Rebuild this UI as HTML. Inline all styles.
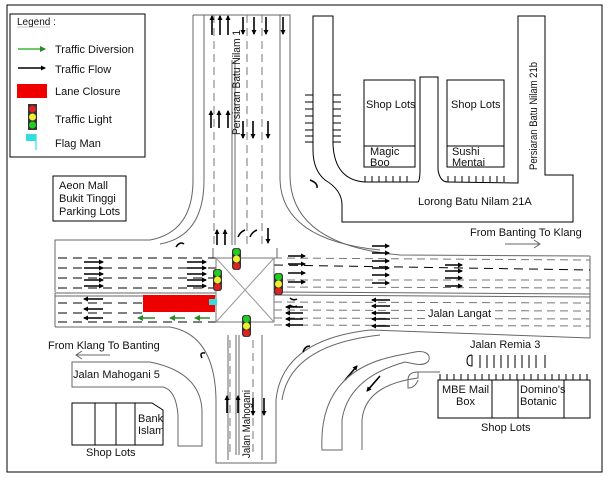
<!DOCTYPE html>
<html><head><meta charset="utf-8"><style>
body{margin:0;background:#fff}
svg{display:block}
text{font-family:"Liberation Sans",Arial,sans-serif;font-size:11px;fill:#111}
</style></head><body>
<svg width="613" height="480" viewBox="0 0 613 480" xmlns="http://www.w3.org/2000/svg">
<defs>
<marker id="a" markerWidth="5" markerHeight="5" refX="4" refY="2.5" orient="auto" markerUnits="userSpaceOnUse"><path d="M0,0 L5,2.5 L0,5 Z" fill="#000"/></marker>
<marker id="g" markerWidth="6" markerHeight="6" refX="5" refY="3" orient="auto" markerUnits="userSpaceOnUse"><path d="M0,0 L6,3 L0,6 Z" fill="#2a8a2a"/></marker>
</defs>
<rect x="7" y="5" width="595" height="467" fill="none" stroke="#000" stroke-width="1"/>

<rect x="10" y="14" width="135" height="143" fill="#fff" stroke="#000"/>
<text x="17" y="25" style="font-size:10px">Legend :</text>
<line x1="17" y1="27" x2="50" y2="27" stroke="#888" stroke-width="0.6"/>
<line x1="18" y1="49" x2="45" y2="49" stroke="#3cb83c" stroke-width="1.5" marker-end="url(#g)"/>
<text x="55" y="53">Traffic Diversion</text>
<line x1="18" y1="68" x2="45" y2="68" stroke="#000" stroke-width="1.5" marker-end="url(#a)"/>
<text x="55" y="73">Traffic Flow</text>
<rect x="17" y="84" width="30" height="14" fill="#e00"/>
<text x="55" y="95">Lane Closure</text>
<rect x="28" y="104" width="9" height="26" fill="#333"/>
<circle cx="32.5" cy="109" r="3.5" fill="#d22"/><circle cx="32.5" cy="117" r="3.5" fill="#ee3"/><circle cx="32.5" cy="125" r="3.5" fill="#2c2"/>
<text x="55" y="123">Traffic Light</text>
<path d="M26,134 L36,134 L36,141 L26,141 Z" fill="#3dd"/><line x1="36" y1="134" x2="36" y2="150" stroke="#3dd" stroke-width="1.2"/>
<text x="55" y="147">Flag Man</text>

<rect x="53" y="176" width="73" height="45" fill="#fff" stroke="#000"/>
<text x="59" y="189">Aeon Mall</text><text x="59" y="202">Bukit Tinggi</text><text x="59" y="215">Parking Lots</text>

<g fill="none" stroke="#666" stroke-width="1">
<path d="M193,15 L193,180 Q193,232 150,240 L55,240 L55,292"/>
<path d="M193,15 L290,15 L290,175 Q290,245 400,255 L590,256"/>
<path d="M204,15 L204,180 Q204,236 160,244"/>
<path d="M280,15 L280,180 Q282,240 380,250"/>
<path d="M213,248 L213,258"/><path d="M277,248 L277,258"/>
<path d="M55,327 L55,293"/>
<path d="M55,327 L170,327 Q215,335 216,400 L216,463 L276,463 L276,400 Q282,340 370,330 L590,338 L590,256"/>
<path d="M282,400 Q290,345 380,335"/>
<path d="M228,335 L228,460 M262,335 L262,460"/>
<path d="M55,293 L216,293 M55,296 L216,296 M274,292 L590,294 M274,295 L590,297"/>
<path d="M232,60 L232,245 M235,60 L235,245"/>
<path d="M236,335 L236,455 M239,335 L239,455"/>
</g>
<g fill="none" stroke="#000" stroke-width="1" stroke-dasharray="9,6">
<path d="M58,258 L216,258 M58,268 L216,268 M58,278 L216,278 M58,288 L216,288"/>
<path d="M58,303 L143,303 M58,313 L143,313 M58,322 L216,322"/>
<path d="M274,265 L590,270"/>
</g>
<g fill="none" stroke="#777" stroke-width="1" stroke-dasharray="8,5">
<path d="M274,258 L590,260 M274,280 L590,280 M274,287 L590,288"/>
<path d="M274,302 L590,303 M274,310 L590,311 M274,318 L590,319 M274,325 L590,326"/>
<path d="M214,15 L214,245 M247,15 L247,245 M262,15 L262,245"/>
<path d="M230,340 L230,455 M253,340 L253,455"/>
</g>

<rect x="216" y="258" width="58" height="64" fill="#fff" stroke="#777"/>
<path d="M216,258 L274,322 M274,258 L216,322" stroke="#999"/>

<rect x="143" y="295" width="72" height="17" fill="#e00"/>
<rect x="209" y="299" width="8" height="6" fill="#3dd"/>
<g stroke="#2a8a2a" stroke-width="1.5" marker-end="url(#g)">
<line x1="155" y1="318" x2="138" y2="318"/><line x1="185" y1="318" x2="170" y2="318"/><line x1="210" y1="318" x2="195" y2="318"/>
</g>

<g stroke="#000" stroke-width="1.6" marker-end="url(#a)">
<line x1="212" y1="35" x2="212" y2="16"/><line x1="220" y1="35" x2="220" y2="16"/><line x1="228" y1="35" x2="228" y2="16"/>
<line x1="243" y1="17" x2="243" y2="34"/><line x1="254" y1="17" x2="254" y2="34"/><line x1="266" y1="17" x2="266" y2="34"/><line x1="283" y1="17" x2="283" y2="34"/>
<line x1="211" y1="128" x2="211" y2="111"/><line x1="219" y1="128" x2="219" y2="111"/><line x1="228" y1="128" x2="228" y2="111"/>
<line x1="243" y1="121" x2="243" y2="138"/><line x1="253" y1="121" x2="253" y2="138"/><line x1="268" y1="121" x2="268" y2="138"/>
<line x1="217" y1="245" x2="217" y2="230"/><line x1="225" y1="245" x2="225" y2="230"/>
<line x1="268" y1="228" x2="268" y2="243"/>
<line x1="84" y1="262" x2="103" y2="262"/><line x1="84" y1="268" x2="103" y2="268"/><line x1="84" y1="274" x2="103" y2="274"/><line x1="84" y1="280" x2="103" y2="280"/><line x1="84" y1="286" x2="103" y2="286"/>
<line x1="187" y1="262" x2="206" y2="262"/><line x1="187" y1="268" x2="206" y2="268"/><line x1="187" y1="274" x2="206" y2="274"/><line x1="187" y1="280" x2="206" y2="280"/><line x1="187" y1="286" x2="206" y2="286"/>
<line x1="288" y1="256" x2="305" y2="256"/><line x1="288" y1="264" x2="305" y2="264"/><line x1="288" y1="273" x2="305" y2="273"/><line x1="288" y1="282" x2="305" y2="282"/>
<line x1="372" y1="246" x2="389" y2="246"/><line x1="372" y1="253" x2="389" y2="253"/><line x1="372" y1="261" x2="389" y2="261"/><line x1="372" y1="268" x2="389" y2="268"/><line x1="372" y1="275" x2="389" y2="275"/><line x1="372" y1="283" x2="389" y2="283"/>
<line x1="445" y1="265" x2="462" y2="265"/><line x1="445" y1="271" x2="462" y2="271"/><line x1="445" y1="278" x2="462" y2="278"/><line x1="445" y1="286" x2="462" y2="286"/>
<line x1="103" y1="299" x2="84" y2="299"/><line x1="103" y1="309" x2="84" y2="309"/><line x1="103" y1="318" x2="84" y2="318"/>
<line x1="303" y1="307" x2="286" y2="307"/><line x1="303" y1="313" x2="286" y2="313"/><line x1="303" y1="319" x2="286" y2="319"/><line x1="303" y1="325" x2="286" y2="325"/>
<line x1="390" y1="300" x2="372" y2="300"/><line x1="390" y1="306" x2="372" y2="306"/><line x1="390" y1="313" x2="372" y2="313"/><line x1="390" y1="319" x2="372" y2="319"/><line x1="390" y1="326" x2="372" y2="326"/>
<line x1="227" y1="413" x2="227" y2="396"/><line x1="238" y1="413" x2="238" y2="396"/><line x1="253" y1="398" x2="253" y2="415"/><line x1="264" y1="398" x2="264" y2="415"/>
<line x1="345" y1="380" x2="357" y2="366"/><line x1="380" y1="376" x2="367" y2="391"/>
</g>
<g fill="none" stroke="#000" stroke-width="1.5">
<path d="M176,247 Q180,241 184,244"/><path d="M310,180 Q318,183 317,188"/><path d="M238,237 Q240,232 245,230"/><path d="M250,237 Q252,232 257,230"/>
<path d="M202,358 Q199,352 205,353"/><path d="M303,352 Q305,346 310,346"/><path d="M290,298 Q293,301 297,299"/><path d="M290,305 Q293,308 297,306"/>
</g>

<g>
<rect x="232" y="248" width="9" height="22" rx="3" fill="#333"/><circle cx="236.5" cy="252" r="3.5" fill="#2c2"/><circle cx="236.5" cy="259" r="3.5" fill="#ee3"/><circle cx="236.5" cy="266" r="3.5" fill="#d22"/>
<rect x="213" y="269" width="9" height="22" rx="3" fill="#333"/><circle cx="217.5" cy="273" r="3.5" fill="#2c2"/><circle cx="217.5" cy="280" r="3.5" fill="#ee3"/><circle cx="217.5" cy="287" r="3.5" fill="#d22"/>
<rect x="274" y="273" width="9" height="22" rx="3" fill="#333"/><circle cx="278.5" cy="277" r="3.5" fill="#2c2"/><circle cx="278.5" cy="284" r="3.5" fill="#ee3"/><circle cx="278.5" cy="291" r="3.5" fill="#d22"/>
<rect x="242" y="315" width="9" height="22" rx="3" fill="#333"/><circle cx="246.5" cy="319" r="3.5" fill="#2c2"/><circle cx="246.5" cy="326" r="3.5" fill="#ee3"/><circle cx="246.5" cy="333" r="3.5" fill="#d22"/>
</g>

<g fill="none" stroke="#000" stroke-width="1">
<path d="M313,16 L333,16 L333,145 Q335,180 365,182 L418,182 Q420,180 420,170 L420,77 L438,77 L438,170 Q440,182 448,182 L518,183 L518,16 L545,16 L545,175 L573,175 L573,222 L342,222 L342,205 Q342,190 325,180 Q313,170 313,150 Z"/>
<rect x="364" y="80" width="51" height="87" fill="#fff"/><line x1="364" y1="146" x2="415" y2="146"/>
<rect x="447" y="80" width="57" height="87" fill="#fff"/><line x1="447" y1="146" x2="504" y2="146"/>
<path d="M305,95 L313,95 L313,142 L305,142 M305,102 L313,102 M305,109 L313,109 M305,116 L313,116 M305,123 L313,123 M305,130 L313,130 M305,136 L313,136"/>
<path d="M341,95 L333,95 L333,142 L341,142 M333,102 L341,102 M333,109 L341,109 M333,116 L341,116 M333,123 L341,123 M333,130 L341,130 M333,136 L341,136"/>
<path d="M365,182 L365,176 M372,182 L372,176 M379,182 L379,176 M386,182 L386,176 M393,182 L393,176 M400,182 L400,176 M407,182 L407,176"/>
<path d="M448,182 L448,176 M455,182 L455,176 M462,182 L462,176 M469,182 L469,176 M476,182 L476,176 M483,182 L483,176 M490,182 L490,176 M497,182 L497,176 M504,182 L504,176"/>
</g>
<text x="366" y="108">Shop Lots</text><text x="451" y="108">Shop Lots</text>
<text x="370" y="155">Magic</text><text x="370" y="166">Boo</text>
<text x="452" y="155">Sushi</text><text x="452" y="166">Mentai</text>
<text x="418" y="205">Lorong Batu Nilam 21A</text>
<text transform="translate(537,170) rotate(-90)" textLength="108" lengthAdjust="spacingAndGlyphs">Persiaran Batu Nilam 21b</text>
<text transform="translate(240,135) rotate(-90)" textLength="105" lengthAdjust="spacingAndGlyphs">Persiaran Batu Nilam 1</text>
<text x="470" y="236">From Banting To Klang</text>
<path d="M505,244 L540,244 M534,240 L540,244 L534,248" stroke="#666" fill="none"/>
<rect x="426" y="306" width="68" height="14" fill="#fff"/>
<text x="428" y="317">Jalan Langat</text>
<text x="470" y="348">Jalan Remia 3</text>
<text x="48" y="349">From Klang To Banting</text>
<path d="M110,355 L76,355 M82,351 L76,355 L82,359" stroke="#666" fill="none"/>
<text transform="translate(250,458) rotate(-90)" textLength="68" lengthAdjust="spacingAndGlyphs">Jalan Mahogani</text>

<g fill="none" stroke="#666" stroke-width="1">
<path d="M72,362 L150,362 Q200,372 202,410 L202,446 L178,446 L178,415 Q176,390 163,387 L72,387 Z"/>
</g>
<g fill="none" stroke="#000" stroke-width="1">
<path d="M72,403 L152,403 L163,410 L163,445 L72,445 Z" fill="#fff"/>
<path d="M95,403 L95,445 M116,403 L116,445 M135,403 L135,445"/>
</g>
<text x="73" y="378">Jalan Mahogani 5</text>
<text x="138" y="422">Bank</text><text x="138" y="434">Islam</text>
<text x="86" y="456">Shop Lots</text>

<g fill="none" stroke="#666" stroke-width="1">
<path d="M322,450 Q318,372 395,356 L415,352 C434,348 434,368 415,364 L405,362 Q348,378 342,420 L342,450 Z"/>
<path d="M362,450 L362,420 Q365,385 418,378 L418,372 L440,372"/>
<path d="M418,372 Q408,372 408,380 L408,388 Q415,388 418,380"/>
</g>
<g fill="none" stroke="#000" stroke-width="1">
<path d="M472,355 Q467,355 467,361 Q467,366 472,366 L472,355 M480,355 L480,368 M487,355 L487,368 M494,355 L494,368 M501,355 L501,368 M508,355 L508,368 M515,355 L515,368 M522,355 L522,368 M529,355 L529,368 M536,355 L536,368 M545,355 L545,368"/>
<rect x="438" y="380" width="152" height="38" fill="#fff"/>
<path d="M492,380 L492,418 M518,380 L518,418 M564,380 L564,418"/>
<path d="M440,374 L440,380 M447,374 L447,380 M454,374 L454,380 M461,374 L461,380 M468,374 L468,380 M475,374 L475,380 M482,374 L482,380 M489,374 L489,380 M496,374 L496,380 M503,374 L503,380 M510,374 L510,380 M517,374 L517,380 M524,374 L524,380 M531,374 L531,380 M538,374 L538,380 M545,374 L545,380 M552,374 L552,380 M559,374 L559,380 M566,374 L566,380 M573,374 L573,380 M580,374 L580,380 M587,374 L587,380"/>
</g>
<text x="442" y="393">MBE Mail</text><text x="456" y="405">Box</text>
<text x="520" y="393">Domino's</text><text x="520" y="405">Botanic</text>
<text x="481" y="431">Shop Lots</text>
</svg>
</body></html>
